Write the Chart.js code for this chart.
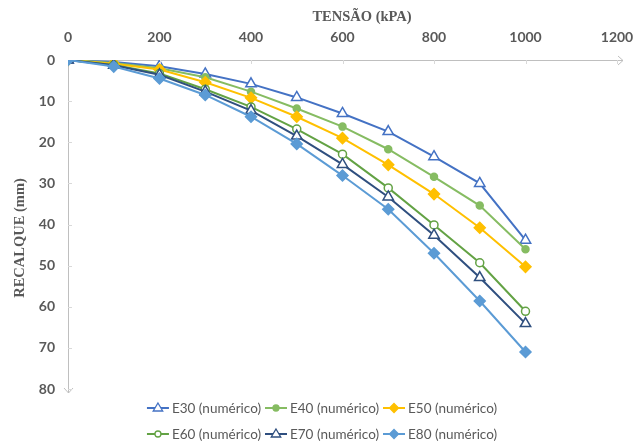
<!DOCTYPE html>
<html>
<head>
<meta charset="utf-8">
<script src="https://cdn.jsdelivr.net/npm/chart.js@4/dist/chart.umd.min.js"></script>
<style>
  html, body { margin: 0; padding: 0; background: #ffffff; }
  #wrap { width: 640px; height: 444px; position: relative; }
</style>
</head>
<body>
<div id="wrap"><canvas id="c" width="640" height="444"></canvas></div>
<script>
// ---- data ----
const tensao = [0, 100, 200, 300, 400, 500, 600, 700, 800, 900, 1000];
const seriesNames = ["E30 (numérico)", "E40 (numérico)", "E50 (numérico)", "E60 (numérico)", "E70 (numérico)", "E80 (numérico)"];
const E30 = [0, 0.5, 1.5, 3.4, 5.8, 9.1, 13.0, 17.4, 23.5, 30.0, 43.8];
const E40 = [0, 0.7, 2.0, 4.2, 7.7, 11.8, 16.2, 21.7, 28.4, 35.4, 46.0];
const E50 = [0, 0.9, 2.3, 5.4, 9.2, 13.8, 19.0, 25.5, 32.6, 40.8, 50.3];
const E60 = [0, 1.2, 3.3, 7.1, 11.4, 16.8, 22.9, 31.1, 40.1, 49.3, 61.1];
const E70 = [0, 1.3, 3.6, 7.7, 12.3, 18.5, 25.4, 33.3, 42.6, 52.9, 64.1];
const E80 = [0, 1.6, 4.5, 8.5, 13.8, 20.4, 28.1, 36.3, 47.0, 58.6, 71.0];
const xTickMax = 1200, xStep = 200;
const yTickMax = 80, yStep = 10;
const xTitle = "TENSÃO (kPA)";
const yTitle = "RECALQUE (mm)";

// ---- styles ----
const styles = [
  { color: "#4472C4", point: "triangle", fill: "#ffffff", r: 6 },
  { color: "#86BC62", point: "circle",   fill: "#86BC62", r: 3.5 },
  { color: "#FFC000", point: "rectRot",  fill: "#FFC000", r: 5.5 },
  { color: "#63A244", point: "circle",   fill: "#ffffff", r: 4 },
  { color: "#2F4F7F", point: "triangle", fill: "#ffffff", r: 6 },
  { color: "#5B9BD5", point: "rectRot",  fill: "#5B9BD5", r: 5.5 }
];
const values = [E30, E40, E50, E60, E70, E80];

const datasets = values.map((v, i) => ({
  label: seriesNames[i],
  data: tensao.map((x, k) => ({ x: x, y: v[k] })),
  borderColor: styles[i].color,
  backgroundColor: styles[i].fill,
  pointBackgroundColor: styles[i].fill,
  pointBorderColor: styles[i].color,
  pointStyle: styles[i].point,
  pointRadius: styles[i].r,
  pointBorderWidth: 1.5,
  borderWidth: 2,
  tension: 0,
  order: 6 - i
}));

const grey = "#595959";
const axisGrey = "#BFBFBF";
const titleFont = "bold 14.5px 'Liberation Serif'";

function drawMarker(ctx, st, x, y, r) {
  ctx.save();
  ctx.fillStyle = st.fill;
  ctx.strokeStyle = st.color;
  ctx.lineWidth = 1.3;
  ctx.beginPath();
  if (st.point === "triangle") {
    ctx.moveTo(x, y - r);
    ctx.lineTo(x + r * 0.95, y + r * 0.6);
    ctx.lineTo(x - r * 0.95, y + r * 0.6);
    ctx.closePath();
  } else if (st.point === "circle") {
    ctx.arc(x, y, r, 0, Math.PI * 2);
  } else {
    ctx.moveTo(x, y - r); ctx.lineTo(x + r, y); ctx.lineTo(x, y + r); ctx.lineTo(x - r, y);
    ctx.closePath();
  }
  ctx.fill();
  ctx.stroke();
  ctx.restore();
}

const extras = {
  id: "extras",
  afterDraw(chart) {
    const ctx = chart.ctx;
    const xs = chart.scales.x, ys = chart.scales.y;
    const ca = chart.chartArea;
    ctx.save();
    // axis arrows
    ctx.strokeStyle = axisGrey;
    ctx.lineWidth = 1;
    ctx.beginPath();
    ctx.moveTo(ca.right, ca.top + 0.5); ctx.lineTo(ca.right + 6, ca.top + 0.5);
    ctx.moveTo(ca.right + 1, ca.top - 4); ctx.lineTo(ca.right + 6, ca.top + 0.5); ctx.lineTo(ca.right + 1, ca.top + 5);
    ctx.moveTo(ca.left + 0.5, ca.bottom); ctx.lineTo(ca.left + 0.5, ca.bottom + 4);
    ctx.moveTo(ca.left - 4, ca.bottom - 1); ctx.lineTo(ca.left + 0.5, ca.bottom + 4); ctx.lineTo(ca.left + 5, ca.bottom - 1);
    ctx.stroke();
    // small inner tick marks
    ctx.strokeStyle = "#D9D9D9";
    ctx.beginPath();
    xs.ticks.forEach(t => {
      if (t.value === 0) return;
      const px = Math.round(xs.getPixelForValue(t.value)) + 0.5;
      ctx.moveTo(px, ca.top); ctx.lineTo(px, ca.top + 4);
    });
    ys.ticks.forEach(t => {
      if (t.value === 0) return;
      const py = Math.round(ys.getPixelForValue(t.value)) + 0.5;
      ctx.moveTo(ca.left, py); ctx.lineTo(ca.left + 4, py);
    });
    ctx.stroke();

    // axis titles
    ctx.fillStyle = grey;
    ctx.font = titleFont;
    ctx.textAlign = "center";
    ctx.textBaseline = "middle";
    ctx.fillText(xTitle, 362, 17);
    ctx.save();
    ctx.translate(20, 238);
    ctx.rotate(-Math.PI / 2);
    ctx.fillText(yTitle, 0, 0);
    ctx.restore();

    // legend (3 items per row)
    ctx.font = "13.5px Lato";
    ctx.textAlign = "left";
    ctx.textBaseline = "middle";
    const lineW = 22, gap1 = 3, gap2 = 4;
    const rows = [[0, 1, 2], [3, 4, 5]];
    const rowY = [408, 434];
    const centerX = 322;
    rows.forEach((row, ri) => {
      const widths = row.map(i => lineW + gap1 + ctx.measureText(seriesNames[i]).width);
      const total = widths.reduce((a, b) => a + b, 0) + gap2 * (row.length - 1);
      let x = centerX - total / 2;
      const y = rowY[ri];
      row.forEach((i, k) => {
        const st = styles[i];
        ctx.strokeStyle = st.color;
        ctx.lineWidth = 2;
        ctx.beginPath();
        ctx.moveTo(x, y); ctx.lineTo(x + lineW, y);
        ctx.stroke();
        drawMarker(ctx, st, x + lineW / 2, y, st.point === "triangle" ? 5 : (st.point === "circle" ? 3 : 4.5));
        ctx.fillStyle = grey;
        ctx.fillText(seriesNames[i], x + lineW + gap1, y + 1);
        x += widths[k] + gap2;
      });
    });
    ctx.restore();
  }
};

new Chart(document.getElementById("c"), {
  type: "line",
  data: { datasets: datasets },
  plugins: [extras],
  options: {
    responsive: false,
    animation: false,
    devicePixelRatio: 1,
    layout: { padding: { left: 0, top: 0, right: 23, bottom: 55 } },
    plugins: { legend: { display: false }, tooltip: { enabled: false } },
    scales: {
      x: {
        type: "linear",
        position: "top",
        min: 0, max: xTickMax,
        afterFit(s) { s.height = 60; s.paddingRight = 0; s.paddingLeft = 0; },
        ticks: { stepSize: xStep, color: grey, font: { family: "Lato", size: 14, weight: "bold" }, padding: 14, maxRotation: 0,
                 callback: v => String(v) },
        grid: { display: false, drawTicks: false },
        border: { display: true, color: axisGrey, width: 1 },
        title: { display: false }
      },
      y: {
        type: "linear",
        position: "left",
        reverse: true,
        min: 0, max: yTickMax,
        afterFit(s) { s.width = 68; s.paddingTop = 0; s.paddingBottom = 0; },
        ticks: { stepSize: yStep, color: grey, font: { family: "Lato", size: 14, weight: "bold" }, padding: 13,
                 callback: v => String(v) },
        grid: { display: false, drawTicks: false },
        border: { display: true, color: axisGrey, width: 1 },
        title: { display: false }
      }
    }
  }
});
</script>
</body>
</html>
